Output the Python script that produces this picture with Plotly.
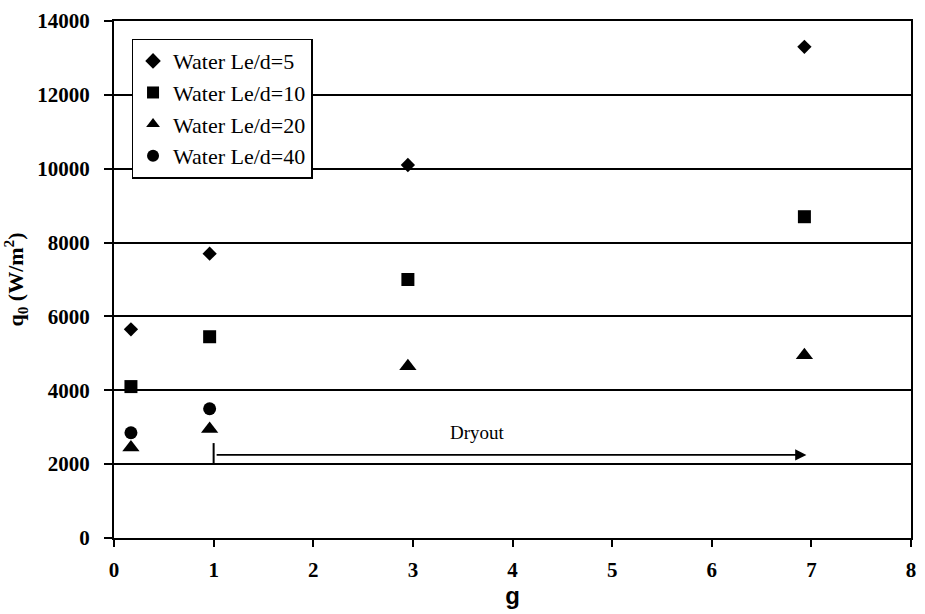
import plotly.graph_objects as go

# ---- data ----
series_names = ["Water Le/d=5", "Water Le/d=10", "Water Le/d=20", "Water Le/d=40"]
g_4 = [0.17, 0.96, 2.95, 6.93]
g_2 = [0.17, 0.96]
q_led5 = [5650, 7700, 10100, 13300]
q_led10 = [4100, 5450, 7000, 8700]
q_led20 = [2450, 2950, 4650, 4950]
q_led40 = [2850, 3500]

x_ticks = [0, 1, 2, 3, 4, 5, 6, 7, 8]
y_ticks = [0, 2000, 4000, 6000, 8000, 10000, 12000, 14000]

dryout_label = "Dryout"
dryout_start_g = 1.0
dryout_end_g = 6.95
dryout_q = 2250
dryout_tick_top = 2570
dryout_label_g = 3.65
dryout_label_q = 2870

serif = "Liberation Serif"
sans = "Liberation Sans"

fig = go.Figure()
xs = [g_4, g_4, g_4, g_2]
ys = [q_led5, q_led10, q_led20, q_led40]
symbols = ["diamond", "square", "triangle-up", "circle"]
sizes = [11, 13, 15, 13]
for name, x, y, sym, sz in zip(series_names, xs, ys, symbols, sizes):
    fig.add_trace(go.Scatter(
        x=x, y=y, mode="markers", name=name,
        marker=dict(symbol=sym, size=sz, color="black", line=dict(width=0)),
    ))

# dryout vertical marker line at g=1
fig.add_shape(type="line", xref="x", yref="y",
              x0=dryout_start_g, x1=dryout_start_g, y0=y_ticks[1], y1=dryout_tick_top,
              line=dict(color="black", width=2))
# arrow
fig.add_annotation(x=dryout_end_g, y=dryout_q, ax=dryout_start_g, ay=dryout_q,
                   xref="x", yref="y", axref="x", ayref="y",
                   text=" ", showarrow=True, arrowhead=2, arrowsize=1.4,
                   arrowwidth=1.6, arrowcolor="black")
fig.add_annotation(x=dryout_label_g, y=dryout_label_q, xref="x", yref="y",
                   text=dryout_label, showarrow=False,
                   font=dict(family=serif, size=19, color="black"))

fig.update_layout(
    width=925, height=614,
    margin=dict(l=114, r=9, t=16, b=75),
    paper_bgcolor="white", plot_bgcolor="white",
    showlegend=True,
    legend=dict(x=0.022, y=0.966, xanchor="left", yanchor="top",
                bgcolor="white", bordercolor="black", borderwidth=1.5,
                font=dict(family=serif, size=22, color="black"),
                itemsizing="constant", tracegroupgap=0),
    font=dict(family=serif, color="black"),
)
fig.update_xaxes(
    range=[0, 8], tickvals=x_ticks, ticktext=[str(v) for v in x_ticks],
    showgrid=False, zeroline=False,
    showline=True, linecolor="black", linewidth=2, mirror=True,
    ticks="outside", ticklen=7, tickwidth=2, tickcolor="black",
    tickfont=dict(family=serif, size=21, weight="bold", color="black"),
    ticklabelstandoff=5,
    title=dict(text="g", font=dict(family=sans, size=24, weight="bold", color="black"), standoff=6),
)
fig.update_yaxes(
    range=[0, 14000], tickvals=y_ticks, ticktext=[str(v) for v in y_ticks],
    showgrid=True, gridcolor="black", gridwidth=1.5, zeroline=False,
    showline=True, linecolor="black", linewidth=2, mirror=True,
    ticks="outside", ticklen=8, tickwidth=2, tickcolor="black",
    tickfont=dict(family=serif, size=21, weight="bold", color="black"),
    ticklabelstandoff=10,
    title=dict(text="q<sub>0</sub> (W/m<sup>2</sup>)",
               font=dict(family=serif, size=22, weight="bold", color="black"), standoff=8),
)

fig.write_html("out.html")
